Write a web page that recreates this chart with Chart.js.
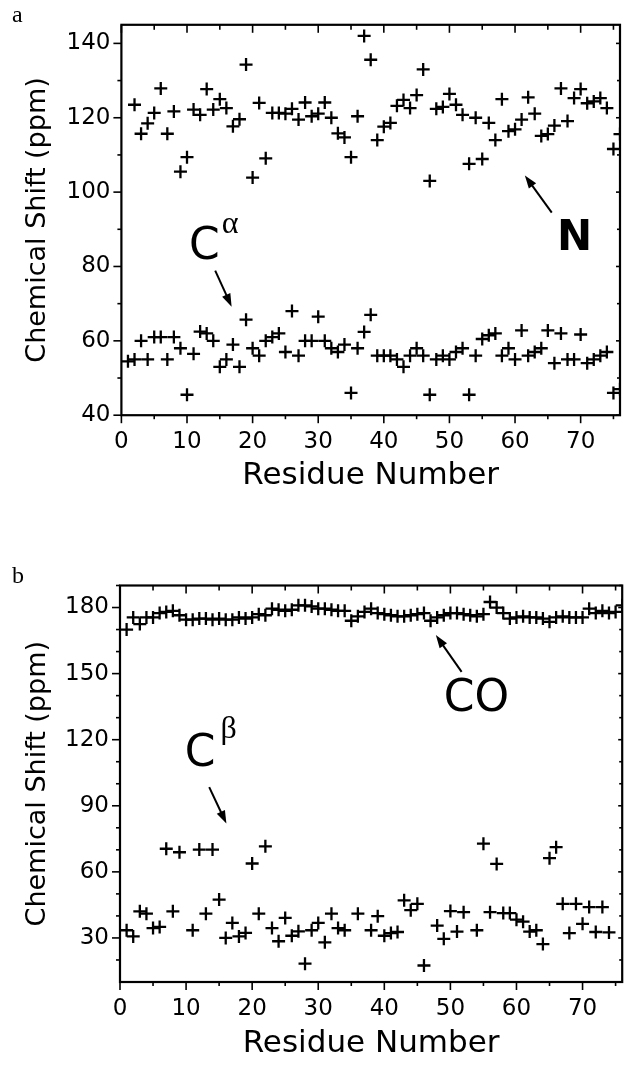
<!DOCTYPE html>
<html><head><meta charset="utf-8">
<script src="https://cdn.jsdelivr.net/npm/chart.js@4/dist/chart.umd.min.js"></script>
<style>
html,body{margin:0;padding:0;background:#fff;}
#wrap{position:relative;width:631px;height:1067px;overflow:hidden;}
canvas{position:absolute;left:0;}
</style></head><body>
<div id="wrap">
<canvas id="ca" style="top:0;width:631px;height:533px"></canvas>
<canvas id="cb" style="top:533px;width:631px;height:534px"></canvas>
</div>
<script>
// ---------- data (panel a) ----------
const nResidues = [2,3,4,5,6,7,8,9,10,11,12,13,14,15,16,17,18,19,20,21,22,23,24,25,26,27,28,29,30,31,32,33,34,35,36,37,38,39,40,41,42,43,44,45,46,47,48,49,50,51,52,53,54,55,56,57,58,59,60,61,62,63,64,65,66,67,68,69,70,71,72,73,74,75,76];
const nShift = [123.5,115.7,118.5,121.3,127.9,115.7,121.7,105.5,109.4,122.2,120.8,127.7,122.2,125,122.6,117.7,119.6,134.3,103.9,124,109.1,121.3,121.3,121.1,122.4,119.5,124.1,120.4,121.1,124.1,120,115.8,114.7,109.4,120.4,142,135.6,114,117.6,118.6,123.2,124.8,122.6,126.1,133,103,122.4,122.9,126.4,123.5,120.8,107.6,120,108.9,118.6,114,125,116.4,116.9,119.5,125.5,121.1,115.1,115.6,117.9,127.9,119.1,125.3,127.7,123.9,124.4,125.3,122.6,111.6,115.6];
const caResidues = [1,2,3,4,5,6,7,8,9,10,11,12,13,14,15,16,17,18,19,20,21,22,23,24,25,26,27,28,29,30,31,32,33,34,35,36,37,38,39,40,41,42,43,44,45,46,47,48,49,50,51,52,53,54,55,56,57,58,59,60,61,62,63,64,65,66,67,68,69,70,71,72,73,74,75,76];
const caShift = [54.5,55,60,55,61,61,55,61,58,45.5,56.5,62.5,62,60,53,55,59,53,65.7,58,56,60,61,62,57,68,56,60,60,66.5,60,58,57,59,46,58,62.4,67,56,56,56,55,53,56,58,56,45.5,55,56,55,57,58,45.5,56,60.5,61.5,62,56,58,55,62.8,56,57,58,62.8,54,62,55,55,61.7,54,55,56,57,46,47];
// ---------- data (panel b) ----------
const coResidues = [1,2,3,4,5,6,7,8,9,10,11,12,13,14,15,16,17,18,19,20,21,22,23,24,25,26,27,28,29,30,31,32,33,34,35,36,37,38,39,40,41,42,43,44,45,46,47,48,49,50,51,52,53,54,55,56,57,58,59,60,61,62,63,64,65,66,67,68,69,70,71,72,73,74,75,76];
const coShift = [170,175.5,172.5,175.5,175.5,177.5,178,178.5,176.5,174.5,174.5,175,175,174.5,175,174.5,174.5,175.5,175,175.5,177,176.5,179.5,179,178.5,179,181,181,180.5,179.5,179.5,179,178.5,178.5,174,176,178,179.5,177.5,177,176.5,176,176,176.5,177,177.5,174,175.5,176.5,177.5,177.5,177,176.5,176,177,182.5,180,177.5,175,175.5,176,175.5,175.5,175,173.5,175.5,176,175.5,175.5,175.5,179.5,177.5,178.5,177.5,178,181];
const cbResidues = [1,2,3,4,5,6,7,8,9,11,12,13,14,15,16,17,18,19,20,21,22,23,24,25,26,27,28,29,30,31,32,33,34,36,38,39,40,41,42,43,44,45,46,48,49,50,51,52,54,55,56,57,58,59,60,61,62,63,64,65,66,67,68,69,70,71,72,73,74];
const cbShift = [33.5,30.7,42.1,41,34.5,35,70.5,42.1,68.9,33.5,70.1,41,70.1,47.4,30,36.8,30.7,32.3,63.8,41,71.6,34.5,28.5,39.1,31,33,18.3,33.5,36.8,28,41,34.5,33.5,41,33.5,39.9,31,32.2,32.7,47.1,42.6,45.5,17.5,35.6,29.6,42.2,32.9,41.7,33.5,72.8,41.7,63.6,41.3,41.3,38.3,37.4,32.9,33.5,27.2,66.2,71.2,45.5,32.2,45.5,36.4,44,32.7,44,32.5];
// ---------- tick labels ----------
const xTicks = [0,10,20,30,40,50,60,70];
const xMinor = [5,15,25,35,45,55,65,75];
const yTicksA = [40,60,80,100,120,140];
const yMinorA = [50,70,90,110,130];
const yTicksB = [30,60,90,120,150,180];
const yMinorB = [20,40,50,70,80,100,110,130,140,160,170,190];

const pts = (xs, ys) => xs.map((x, i) => ({x, y: ys[i]}));
const SANS = '"DejaVu Sans", sans-serif';

const framePlugin = {
  id: 'frame',
  afterDraw(chart, args, o) {
    const {ctx, chartArea: a, scales: {x, y}} = chart;
    ctx.save();
    ctx.strokeStyle = '#000';
    ctx.lineWidth = 1.6;
    const seg = (x1, y1, x2, y2) => { ctx.beginPath(); ctx.moveTo(x1, y1); ctx.lineTo(x2, y2); ctx.stroke(); };
    o.xMajor.forEach(v => { const p = x.getPixelForValue(v); seg(p, a.bottom, p, a.bottom + 8); seg(p, a.top, p, a.top + 8); });
    o.xMinor.forEach(v => { if (v > x.max) return; const p = x.getPixelForValue(v); seg(p, a.bottom, p, a.bottom + 4); seg(p, a.top, p, a.top + 5); });
    o.yMajor.forEach(v => { const p = y.getPixelForValue(v); seg(a.left - 8, p, a.left, p); seg(a.right - 4, p, a.right, p); });
    o.yMinor.forEach(v => { if (v > y.max || v < y.min) return; const p = y.getPixelForValue(v); seg(a.left - 4, p, a.left, p); seg(a.right - 3, p, a.right, p); });
    ctx.lineWidth = 2.2;
    ctx.strokeRect(a.left, a.top, a.right - a.left, a.bottom - a.top);
    ctx.fillStyle = '#000';
    ctx.textBaseline = 'alphabetic';
    (o.labels || []).forEach(l => {
      ctx.font = l.font;
      ctx.textAlign = l.align || 'left';
      ctx.fillText(l.text, x.getPixelForValue(l.x), y.getPixelForValue(l.y));
    });
    (o.arrows || []).forEach(ar => {
      const x1 = x.getPixelForValue(ar.from[0]), y1 = y.getPixelForValue(ar.from[1]);
      const x2 = x.getPixelForValue(ar.to[0]), y2 = y.getPixelForValue(ar.to[1]);
      const ang = Math.atan2(y2 - y1, x2 - x1), hl = 13, hw = 4.5;
      ctx.lineWidth = 2;
      seg(x1, y1, x2 - hl * 0.8 * Math.cos(ang), y2 - hl * 0.8 * Math.sin(ang));
      ctx.beginPath();
      ctx.moveTo(x2, y2);
      ctx.lineTo(x2 - hl * Math.cos(ang) + hw * Math.sin(ang), y2 - hl * Math.sin(ang) - hw * Math.cos(ang));
      ctx.lineTo(x2 - hl * Math.cos(ang) - hw * Math.sin(ang), y2 - hl * Math.sin(ang) + hw * Math.cos(ang));
      ctx.closePath(); ctx.fill();
    });
    if (o.panel) {
      ctx.font = '24px "Liberation Serif", serif';
      ctx.textAlign = 'left';
      ctx.fillText(o.panel.text, o.panel.px, o.panel.py);
    }
    ctx.restore();
  }
};

function makeChart(id, cfg) {
  const ds = cfg.series.map(s => ({
    data: s, pointStyle: 'cross', pointRadius: 6.5, pointBorderWidth: 2.3,
    borderColor: '#000', backgroundColor: '#000', showLine: false
  }));
  return new Chart(document.getElementById(id), {
    type: 'scatter',
    data: {datasets: ds},
    plugins: [framePlugin],
    options: {
      responsive: false, animation: false, devicePixelRatio: 1,
      layout: {padding: {top: cfg.top, right: cfg.right, left: 0, bottom: 0}},
      plugins: {legend: {display: false}, tooltip: {enabled: false}, frame: cfg.frame},
      scales: {
        x: {
          type: 'linear', min: 0, max: 76,
          grid: {display: false, drawTicks: false}, border: {display: false},
          afterBuildTicks: s => { s.ticks = xTicks.map(v => ({value: v})); },
          afterFit: s => { s.height = cfg.xHeight; },
          ticks: {color: '#000', font: {family: SANS, size: 23}, padding: 13, maxRotation: 0, autoSkip: false},
          title: {display: true, text: 'Residue Number', color: '#000', font: {family: SANS, size: 31}, padding: {top: 0, bottom: cfg.xTitlePad}}
        },
        y: {
          type: 'linear', min: cfg.ymin, max: cfg.ymax,
          grid: {display: false, drawTicks: false}, border: {display: false},
          afterBuildTicks: s => { s.ticks = cfg.yTicks.map(v => ({value: v})); },
          afterFit: s => { s.width = cfg.left; },
          ticks: {color: '#000', font: {family: SANS, size: 23}, padding: 11, autoSkip: false},
          title: {display: true, text: 'Chemical Shift (ppm)', color: '#000', font: {family: SANS, size: 27}, padding: {top: 22, bottom: 0}}
        }
      }
    }
  });
}

const A = makeChart('ca', {
  series: [pts(nResidues, nShift), pts(caResidues, caShift)],
  top: 18.8, right: 11, left: 121.4, xHeight: 533 - 415.2, xTitlePad: 38,
  ymin: 40, ymax: 145, yTicks: yTicksA,
  frame: {
    xMajor: xTicks, xMinor: xMinor, yMajor: yTicksA, yMinor: yMinorA,
    labels: [
      {text: 'C', x: 10.3, y: 81.9, font: '44px ' + SANS},
      {text: 'α', x: 15.3, y: 89, font: '32px "Liberation Serif", serif'},
      {text: 'N', x: 66.4, y: 84.5, font: 'bold 42px ' + SANS}
    ],
    arrows: [
      {from: [14.3, 78.9], to: [16.8, 69.2]},
      {from: [65.6, 94.5], to: [61.5, 104.5]}
    ],
    panel: {text: 'a', px: 12, py: 22}
  }
});
const B = makeChart('cb', {
  series: [pts(coResidues, coShift), pts(cbResidues, cbShift)],
  top: 585.5 - 533, right: 6, left: 120, xHeight: 534 - (982 - 533), xTitlePad: 4,
  ymin: 10, ymax: 190, yTicks: yTicksB,
  frame: {
    xMajor: xTicks, xMinor: xMinor, yMajor: yTicksB, yMinor: yMinorB,
    labels: [
      {text: 'CO', x: 49.0, y: 133, font: '44px ' + SANS},
      {text: 'C', x: 9.8, y: 108, font: '44px ' + SANS},
      {text: 'β', x: 15.2, y: 120.6, font: '32px "Liberation Serif", serif'}
    ],
    arrows: [
      {from: [51.7, 150.8], to: [47.8, 167.5]},
      {from: [13.5, 98.5], to: [16.1, 81.9]}
    ],
    panel: {text: 'b', px: 12, py: 50}
  }
});
</script>
</body></html>
